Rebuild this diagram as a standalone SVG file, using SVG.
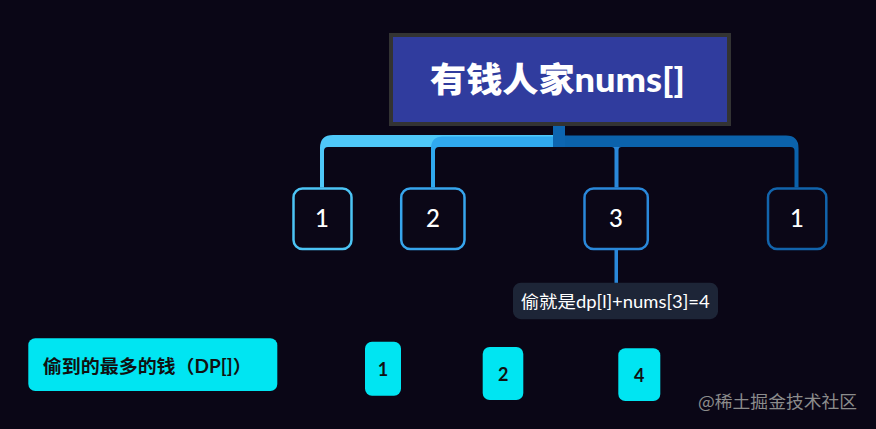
<svg xmlns="http://www.w3.org/2000/svg" width="876" height="429" viewBox="0 0 876 429">
<style>
.num{font-family:"Lato","Noto Sans",sans-serif;font-size:24px;fill:#ffffff;text-anchor:middle;font-weight:500}
.node rect{fill:#0b0717;stroke-width:2.5}
.dp rect{fill:#00e5f2}
.dpt{font-family:"Lato","Noto Sans",sans-serif;font-size:18px;font-weight:700;fill:#111111;text-anchor:middle}
</style>
<rect x="0" y="0" width="876" height="429" fill="#0a0616"/>
<g id="connectors">
  <path d="M553,135 H333 Q320,135 320,148 V187.5 H324 V151 Q324,147 328,147 H553 Z" fill="#4fc8f8"/>
  <path d="M553,136.5 H443 Q431,136.5 431,148.5 V187.5 H435 V151 Q435,147 439,147 H553 Z" fill="#30a9ef"/>
  <path d="M614.5,187.5 V150 Q614.5,147 611.5,147 H621.5 Q618.5,147 618.5,150 V187.5 Z" fill="#2a88da"/>
  <path d="M553,135.5 H786 Q798.5,135.5 798.5,148 V187.5 H794.5 V151 Q794.5,147 790.5,147 H553 Z" fill="#0b62ab"/>
  <rect x="553" y="125" width="12" height="22" fill="#0d65b0"/>
  <rect x="614.5" y="250" width="3.5" height="33" fill="#2a88da"/>
</g>
<g id="root">
  <rect x="391" y="35" width="338" height="89" fill="#303c9e" stroke="#333333" stroke-width="4"/>
  <text x="557.5" y="92" font-family="Lato,'Noto Sans CJK SC',sans-serif" font-size="34" font-weight="900" fill="#ffffff" text-anchor="middle" textLength="255" lengthAdjust="spacingAndGlyphs">有钱人家nums[]</text>
</g>
<g id="n1" class="node">
  <rect x="293.5" y="188.5" width="58" height="60.5" rx="9" stroke="#4cc4f5"/>
  <text class="num" x="322" y="226.7">1</text>
</g>
<g id="n2" class="node">
  <rect x="401.2" y="188.5" width="63.3" height="60.5" rx="9" stroke="#37a5ed"/>
  <text class="num" x="433" y="226.7">2</text>
</g>
<g id="n3" class="node">
  <rect x="584.5" y="188.5" width="63.3" height="60.5" rx="9" stroke="#2a88da"/>
  <text class="num" x="616" y="226.7">3</text>
</g>
<g id="n4" class="node">
  <rect x="768" y="188.5" width="58.3" height="60.5" rx="9" stroke="#1264ac"/>
  <text class="num" x="797" y="226.7">1</text>
</g>
<g id="tip">
  <rect x="513" y="282.7" width="205" height="36.5" rx="8" fill="#1d2537"/>
  <text x="520.7" y="307.7" font-family="Lato,'Noto Sans CJK SC',sans-serif" font-size="17.5" font-weight="400" fill="#ffffff" textLength="189" lengthAdjust="spacingAndGlyphs">偷就是dp[l]+nums[3]=4</text>
</g>
<g id="dplabel" class="dp">
  <rect x="28.3" y="338.3" width="249" height="52.7" rx="7"/>
  <text x="42.7" y="373" font-family="Lato,'Noto Sans CJK SC',sans-serif" font-size="18" font-weight="700" fill="#111111" textLength="209" lengthAdjust="spacingAndGlyphs">偷到的最多的钱（DP[]）</text>
</g>
<g id="dp1" class="dp">
  <rect x="365" y="341.7" width="36" height="54" rx="7"/>
  <text class="dpt" x="383" y="375.7">1</text>
</g>
<g id="dp2" class="dp">
  <rect x="482.7" y="347" width="40.6" height="53" rx="7"/>
  <text class="dpt" x="503.3" y="381">2</text>
</g>
<g id="dp3" class="dp">
  <rect x="618.3" y="348.3" width="42" height="52.7" rx="7"/>
  <text class="dpt" x="639.3" y="382.3">4</text>
</g>
<text x="698" y="408" font-family="'Noto Sans CJK SC',sans-serif" font-size="17" fill="#8c8c8c" textLength="159" lengthAdjust="spacingAndGlyphs">@稀土掘金技术社区</text>
</svg>
